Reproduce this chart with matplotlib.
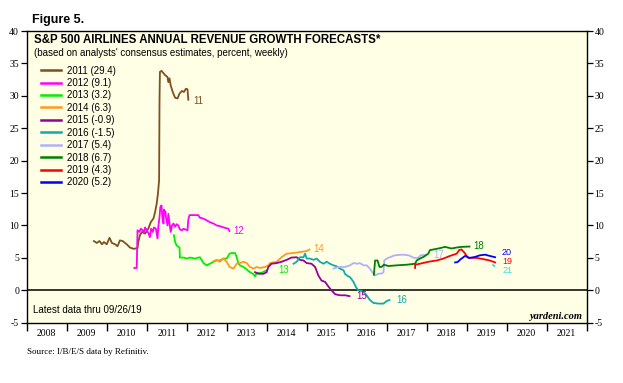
import matplotlib
matplotlib.use('Agg')
import matplotlib.pyplot as plt
from matplotlib.ticker import FixedLocator, NullFormatter

# ---------------------------------------------------------------#
# data (year fraction, percent)
x11 = [2009.68, 2009.75, 2009.82, 2009.88, 2009.93, 2010.00, 2010.07, 2010.13, 2010.21, 2010.27,
       2010.33, 2010.40, 2010.50, 2010.58, 2010.67, 2010.77, 2010.79, 2010.83, 2010.88, 2010.96,
       2011.04, 2011.10, 2011.17, 2011.21, 2011.25, 2011.28, 2011.31, 2011.32, 2011.33, 2011.37,
       2011.46, 2011.52, 2011.54, 2011.57, 2011.60, 2011.65, 2011.71, 2011.77, 2011.82, 2011.88,
       2011.93, 2011.98, 2012.02, 2012.04]
y11 = [7.6, 7.3, 7.6, 7.1, 7.45, 7.1, 8.1, 7.3, 7.1, 6.8,
       7.7, 7.6, 7.1, 6.6, 6.4, 6.5, 7.45, 8.5, 9.0, 8.75,
       9.5, 10.5, 11.1, 12.1, 13.4, 14.9, 17.0, 29.3, 33.7, 33.85,
       33.2, 32.9, 32.1, 32.7, 31.6, 30.6, 29.7, 29.6, 30.35, 30.75,
       30.6, 31.1, 31.0, 29.4]

x12 = [2010.69, 2010.75, 2010.77, 2010.82, 2010.85, 2010.90, 2010.93, 2010.96, 2011.00, 2011.04,
       2011.08, 2011.11, 2011.15, 2011.18, 2011.23, 2011.27, 2011.29, 2011.32, 2011.34, 2011.37,
       2011.39, 2011.42, 2011.43, 2011.47, 2011.48, 2011.52, 2011.54, 2011.57, 2011.60, 2011.63,
       2011.67, 2011.71, 2011.75, 2011.79, 2011.83, 2011.88, 2011.92, 2012.02, 2012.04, 2012.07,
       2012.29, 2012.33, 2012.42, 2012.50, 2012.58, 2012.67, 2012.75, 2012.83, 2012.92, 2013.04,
       2013.07]
y12 = [3.45, 3.45, 9.26, 9.0, 9.5, 9.26, 9.0, 9.7, 9.26, 8.85,
       8.2, 9.5, 9.0, 9.7, 9.5, 8.0, 9.8, 11.3, 12.85, 13.1,
       11.3, 10.3, 12.45, 12.1, 11.3, 10.0, 11.8, 10.3, 9.0, 10.0,
       10.3, 9.8, 10.2, 10.0, 9.4, 9.26, 9.5, 9.26, 10.9, 11.6,
       11.6, 11.2, 11.05, 10.8, 10.5, 10.3, 10.0, 9.9, 9.7, 9.5,
       9.15]

x13 = [2011.68, 2011.71, 2011.75, 2011.82, 2011.83, 2011.92, 2012.00, 2012.08, 2012.21, 2012.29,
       2012.33, 2012.42, 2012.50, 2012.58, 2012.67, 2012.75, 2012.83, 2012.92, 2013.00, 2013.07,
       2013.12, 2013.21, 2013.25, 2013.29, 2013.33, 2013.42, 2013.50, 2013.58, 2013.67, 2013.71,
       2013.75, 2013.87, 2014.00]
y13 = [8.5, 7.45, 6.9, 6.6, 5.05, 5.05, 4.9, 5.05, 4.9, 5.05,
       5.1, 4.2, 3.85, 4.1, 4.4, 4.6, 4.6, 4.9, 4.9, 5.65,
       5.75, 5.75, 5.1, 4.2, 3.85, 3.6, 3.2, 2.8, 2.5, 2.15,
       2.7, 2.7, 3.1]

x14 = [2012.67, 2012.75, 2012.83, 2012.92, 2013.00, 2013.07, 2013.17, 2013.25, 2013.33, 2013.42,
       2013.50, 2013.58, 2013.67, 2013.75, 2013.83, 2013.96, 2014.04, 2014.08, 2014.25, 2014.37,
       2014.50, 2014.67, 2014.83, 2015.00, 2015.07]
y14 = [4.5, 4.7, 4.4, 4.9, 4.4, 3.6, 3.35, 4.1, 4.2, 4.4,
       4.2, 3.6, 3.35, 3.6, 3.45, 3.6, 3.85, 4.2, 4.4, 5.1,
       5.65, 5.75, 5.9, 6.05, 6.3]

x15 = [2013.71, 2013.79, 2013.92, 2014.00, 2014.04, 2014.12, 2014.25, 2014.37, 2014.50, 2014.62,
       2014.75, 2014.83, 2014.92, 2015.00, 2015.12, 2015.21, 2015.29, 2015.37, 2015.46, 2015.54,
       2015.62, 2015.71, 2015.83, 2015.96, 2016.07]
y15 = [2.8, 2.55, 2.55, 2.8, 3.6, 4.1, 4.2, 4.4, 4.7, 5.05,
       5.1, 4.7, 4.6, 4.2, 4.1, 3.6, 2.3, 1.5, 1.3, 0.6,
       0.0, -0.6, -0.77, -0.77, -0.9]

x16 = [2014.67, 2014.75, 2014.83, 2014.92, 2014.96, 2015.00, 2015.08, 2015.17, 2015.25, 2015.33,
       2015.42, 2015.50, 2015.58, 2015.67, 2015.75, 2015.83, 2015.92, 2015.96, 2016.04, 2016.08,
       2016.17, 2016.23, 2016.29, 2016.37, 2016.46, 2016.50, 2016.58, 2016.67, 2016.79, 2016.92,
       2017.00, 2017.07]
y16 = [4.1, 4.4, 5.1, 5.1, 5.65, 4.9, 4.9, 4.7, 4.9, 4.4,
       4.1, 4.4, 4.1, 3.85, 3.7, 3.35, 3.1, 2.5, 2.15, 2.05,
       1.3, 0.5, 0.0, -0.1, -0.5, -0.8, -1.5, -1.95, -2.05, -2.05,
       -1.65, -1.5]

x17 = [2015.67, 2015.79, 2015.96, 2016.08, 2016.17, 2016.27, 2016.33, 2016.42, 2016.50, 2016.58,
       2016.65, 2016.71, 2016.79, 2016.88, 2016.92, 2016.94, 2017.00, 2017.10, 2017.20, 2017.40,
       2017.55, 2017.68, 2017.78, 2017.85, 2017.97]
y17 = [3.35, 3.6, 3.6, 3.85, 4.2, 4.1, 4.2, 3.85, 3.85, 3.35,
       2.7, 2.3, 2.55, 2.6, 2.8, 4.6, 4.9, 5.15, 5.4, 5.5,
       5.4, 5.0, 5.0, 5.4, 5.45]

x18 = [2016.68, 2016.71, 2016.77, 2016.82, 2016.87, 2016.93, 2017.04, 2017.25, 2017.50, 2017.71,
       2017.75, 2017.83, 2017.92, 2018.04, 2018.08, 2018.17, 2018.33, 2018.46, 2018.62, 2018.75,
       2018.87, 2019.07]
y18 = [2.4, 4.6, 4.6, 3.6, 3.6, 3.95, 3.75, 3.85, 3.95, 4.1,
       4.6, 4.9, 5.15, 5.65, 6.2, 6.3, 6.5, 6.7, 6.45, 6.6,
       6.7, 6.75]

x19 = [2017.71, 2017.71, 2017.83, 2018.04, 2018.25, 2018.42, 2018.58, 2018.75, 2018.81, 2018.87,
       2018.93, 2019.00, 2019.04, 2019.25, 2019.42, 2019.58, 2019.71]
y19 = [3.45, 3.95, 4.1, 4.4, 4.6, 4.9, 5.3, 5.65, 6.2, 6.3,
       5.9, 5.3, 5.0, 5.0, 4.8, 4.6, 4.3]

x20 = [2018.71, 2018.77, 2018.85, 2018.96, 2019.07, 2019.21, 2019.33, 2019.46, 2019.58, 2019.68,
       2019.71]
y20 = [4.3, 4.35, 4.8, 5.3, 5.0, 5.15, 5.4, 5.5, 5.3, 5.15, 5.1]

x21 = [2019.66, 2019.69]
y21 = [3.9, 3.75]

legend_labels = ['2011 (29.4)', '2012 (9.1)', '2013 (3.2)', '2014 (6.3)', '2015 (-0.9)',
                 '2016 (-1.5)', '2017 (5.4)', '2018 (6.7)', '2019 (4.3)', '2020 (5.2)']
end_tags = ['11', '12', '13', '14', '15', '16', '17', '18', '19', '20', '21']
tag_x = [2012.16, 2013.16, 2014.28, 2015.16, 2016.25, 2017.25, 2018.16, 2019.17, 2019.9, 2019.87, 2019.9]
tag_y = [29.2, 9.1, 3.1, 6.3, -0.9, -1.5, 5.5, 6.8, 4.4, 5.8, 3.0]
year_labels = [str(y) for y in range(2008, 2022)]

colors = ['#7f4f1f', '#ff00ff', '#00ee00', '#ff9922', '#990099', '#11aaaa',
          '#b0b0ff', '#008000', '#ff0000', '#0000ff', '#33dddd']

# ---------------------------------------------------------------#
plt.rcParams['font.family'] = ['Liberation Sans', 'DejaVu Sans']
plt.rcParams['axes.unicode_minus'] = False
fig = plt.figure(figsize=(6.23, 3.83), dpi=100)
ax = fig.add_axes([0.0429, 0.1574, 0.8988, 0.7616])
ax.set_facecolor('#ffffe6')

xs = [x11, x12, x13, x14, x15, x16, x17, x18, x19, x20, x21]
ys = [y11, y12, y13, y14, y15, y16, y17, y18, y19, y20, y21]
for i in range(len(xs)):
    lab = legend_labels[i] if i < len(legend_labels) else None
    ax.plot(xs[i], ys[i], color=colors[i], lw=1.3, label=lab, zorder=3)
    fs = 6.5 if i >= 8 else 7
    ax.text(tag_x[i], tag_y[i], end_tags[i], color=colors[i], fontsize=fs,
            family='Liberation Sans', ha='left', va='center', zorder=4)

ax.axhline(0, color='black', lw=1.1, zorder=2)
ax.set_xlim(2008, 2022)
ax.set_ylim(-5, 40)

# y axis both sides
ax.set_yticks(range(-5, 41, 5))
ax.tick_params(axis='y', which='both', left=True, right=True, labelleft=True, labelright=True,
               direction='out', length=4.5, width=0.9, labelsize=7, pad=1)
for t in ax.get_yticklabels():
    t.set_family('Liberation Serif')

# x axis: year boundaries as ticks, labels centred in between
ax.xaxis.set_major_locator(FixedLocator(range(2008, 2023)))
ax.xaxis.set_major_formatter(NullFormatter())
ax.xaxis.set_minor_locator(FixedLocator([y + 0.5 for y in range(2008, 2022)]))
ax.set_xticklabels(year_labels, minor=True, fontsize=7, family='Liberation Serif')
ax.tick_params(axis='x', which='major', direction='out', length=6, width=1)
ax.tick_params(axis='x', which='minor', length=0, pad=4.5)

for s in ax.spines.values():
    s.set_linewidth(1)

leg = ax.legend(loc='upper left', bbox_to_anchor=(0.018, 0.895), frameon=False, fontsize=7,
                handlelength=2.1, handletextpad=0.65, labelspacing=0.25, borderaxespad=0)
for ln in leg.get_lines():
    ln.set_linewidth(1.8)

ax.text(0.013, 0.969, 'S&P 500 AIRLINES ANNUAL REVENUE GROWTH FORECASTS*', transform=ax.transAxes,
        fontsize=8.3, fontweight='bold', ha='left', va='center')
ax.text(0.013, 0.925, "(based on analysts' consensus estimates, percent, weekly)", transform=ax.transAxes,
        fontsize=7, ha='left', va='center')
ax.text(0.011, 0.043, 'Latest data thru 09/26/19', transform=ax.transAxes,
        fontsize=7, ha='left', va='center')
ax.text(0.9915, 0.023, 'yardeni.com', transform=ax.transAxes, fontsize=7.5,
        family='Liberation Serif', style='italic', fontweight='bold', ha='right', va='center')

fig.text(0.0514, 0.948, 'Figure 5.', fontsize=9, fontweight='bold', ha='left', va='center')
fig.text(0.043, 0.081, 'Source: I/B/E/S data by Refinitiv.', fontsize=6.5,
         family='Liberation Serif', ha='left', va='center')

fig.savefig('out.png', dpi=100)
